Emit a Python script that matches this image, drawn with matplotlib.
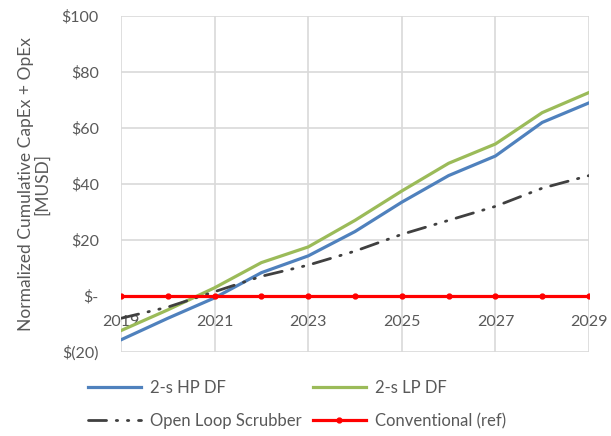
import numpy as np
import matplotlib.pyplot as plt

years = [2019, 2020, 2021, 2022, 2023, 2024, 2025, 2026, 2027, 2028, 2029]
hp_df = [-15.7, -8.0, -0.7, 8.3, 14.3, 23.0, 33.5, 43.0, 50.0, 62.0, 69.0]
lp_df = [-12.4, -5.0, 2.9, 11.9, 17.5, 27.0, 37.5, 47.4, 54.3, 65.5, 72.7]
open_loop = [-8.0, -4.0, 1.5, 7.0, 11.0, 16.0, 22.0, 27.0, 32.0, 38.5, 43.0]
conventional = [0] * 11

xticks = [2019, 2021, 2023, 2025, 2027, 2029]
yticks = [-20, 0, 20, 40, 60, 80, 100]
ylabels = ["$(20)", "$-", "$20", "$40", "$60", "$80", "$100"]

txt = "#595959"
plt.rcParams["font.family"] = ["Lato", "DejaVu Sans"]

fig = plt.figure(figsize=(6.11, 4.36), dpi=100)
ax = fig.add_axes([0.198, 0.193, 0.766, 0.770])

l_hp, = ax.plot(years, hp_df, color="#4F81BD", lw=2.3, label="2-s HP DF", zorder=3)
l_lp, = ax.plot(years, lp_df, color="#9BBB59", lw=2.3, label="2-s LP DF", zorder=3)
l_ol, = ax.plot(years, open_loop, color="#404040", lw=2.0, dashes=(6.5, 3.5, 0.5, 3.5, 0.5, 3.5),
                dash_capstyle="round", label="Open Loop Scrubber", zorder=3)
l_cv, = ax.plot(years, conventional, color="#FF0000", lw=2.3, marker="o", ms=3.5,
                label="Conventional (ref)", zorder=4)

ax.set_xlim(2019, 2029)
ax.set_ylim(-20, 100)
ax.set_xticks(xticks)
ax.set_yticks(yticks)
ax.set_yticklabels(ylabels)
ax.grid(True, color="#D9D9D9", lw=1.2)
ax.set_axisbelow(True)
for s in ax.spines.values():
    s.set_visible(False)
ax.spines["bottom"].set_position(("data", 0))
ax.tick_params(length=0, labelsize=11.5, labelcolor=txt)
ax.tick_params(axis="x", pad=14)
ax.tick_params(axis="y", pad=16)

ax.set_ylabel("Normalized Cumulative CapEx + OpEx\n[MUSD]", fontsize=12.5, color=txt,
              linespacing=1.05, labelpad=8)

# legend: two columns placed by hand, filled row by row like the original
leg_kw = dict(loc="upper left", frameon=False, fontsize=12, labelcolor=txt,
              handlelength=3.2, handletextpad=0.55, labelspacing=1.0,
              borderpad=0, borderaxespad=0, bbox_transform=fig.transFigure)
leg1 = fig.legend([l_hp, l_ol], ["2-s HP DF", "Open Loop Scrubber"],
                  bbox_to_anchor=(0.144, 0.128), **leg_kw)
leg2 = fig.legend([l_lp, l_cv], ["2-s LP DF", "Conventional (ref)"],
                  bbox_to_anchor=(0.512, 0.128), **leg_kw)

fig.savefig("out.png", dpi=100)
